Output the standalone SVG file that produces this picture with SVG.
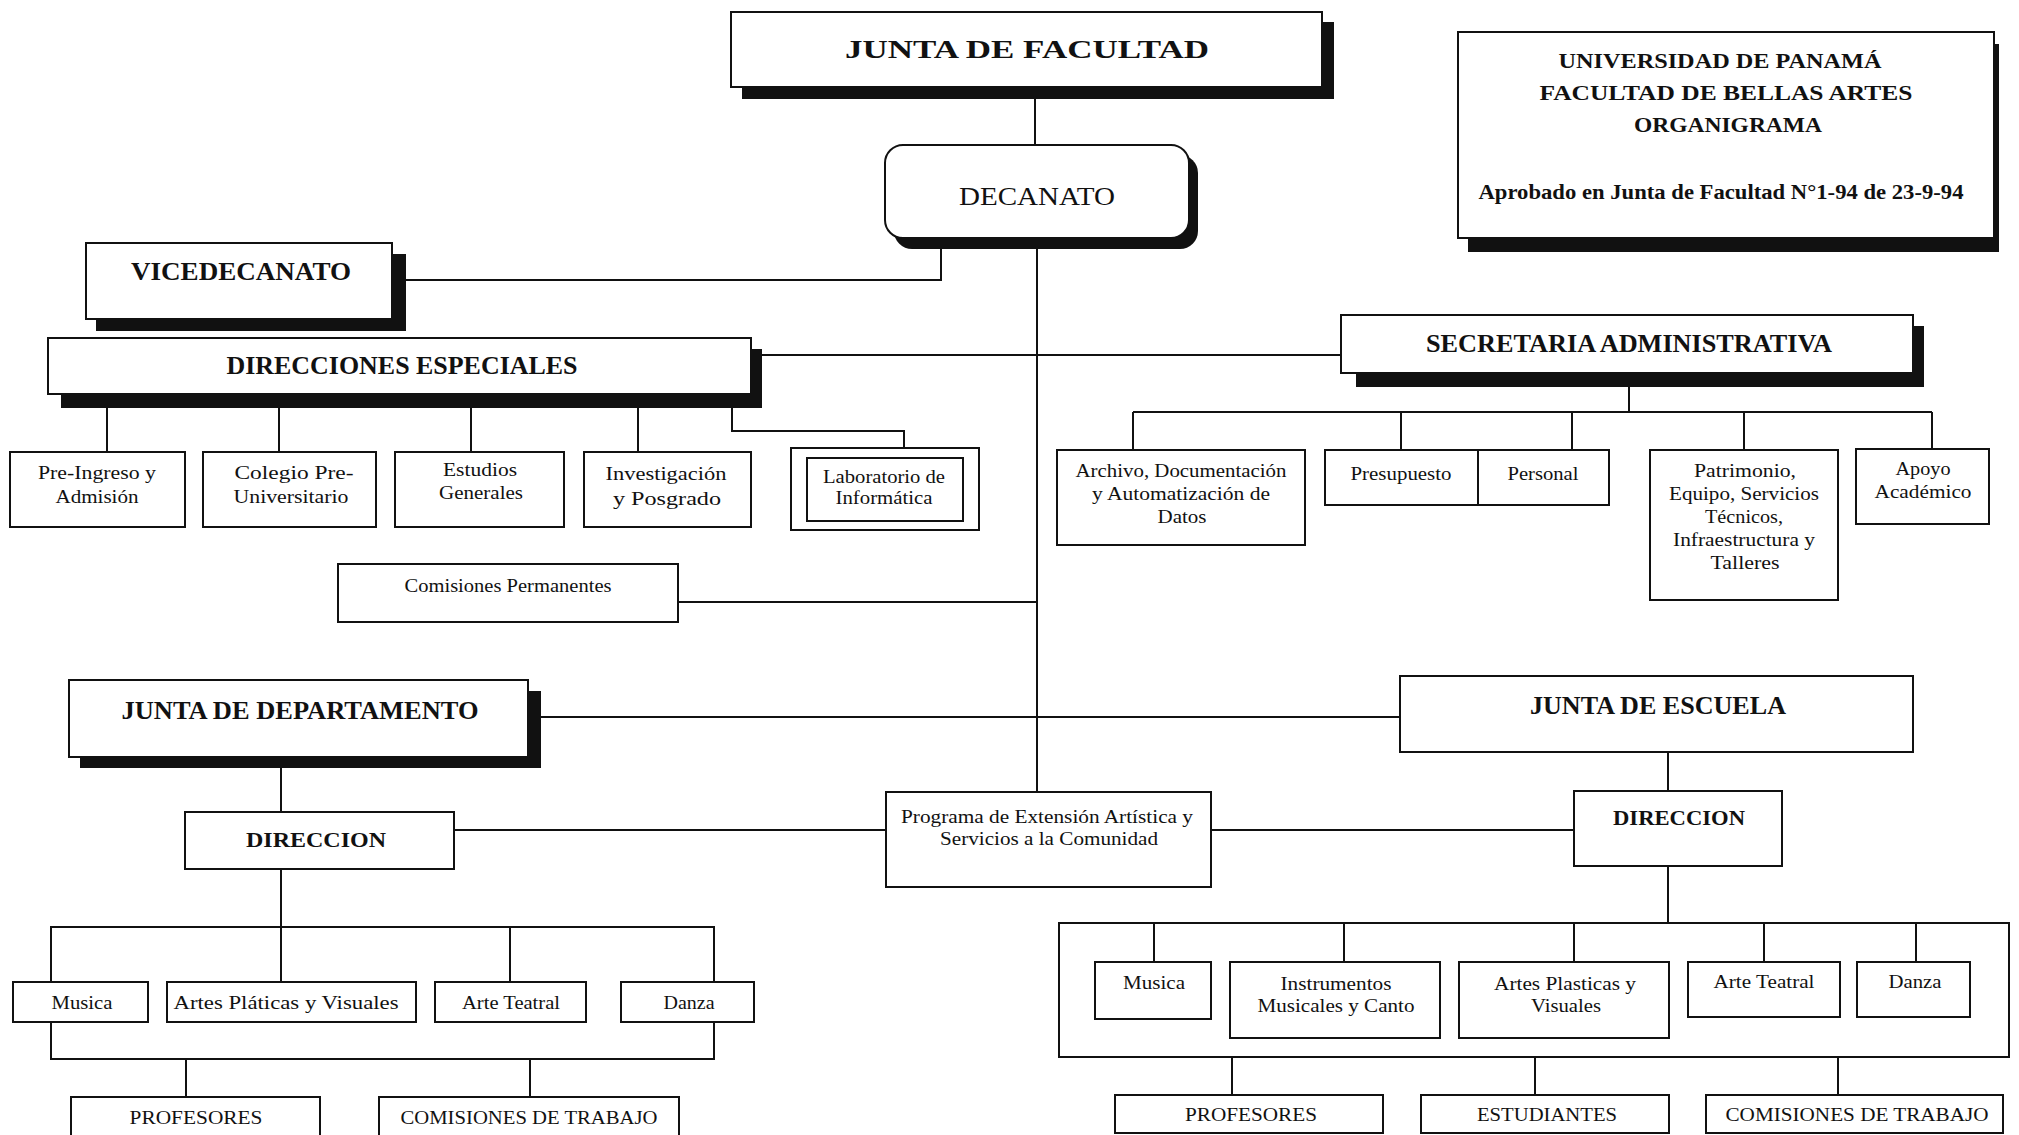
<svg xmlns="http://www.w3.org/2000/svg" width="2019" height="1135" viewBox="0 0 2019 1135">
<style>
.bx{fill:#fff;stroke:#111;stroke-width:2}
.sh{fill:#111}
.ln{stroke:#111;stroke-width:2;fill:none}
text{font-family:"Liberation Serif","Times New Roman",serif;fill:#111;text-anchor:middle}
.hd{font-weight:bold;font-size:25px}
.t{font-size:18px}
.tb{font-weight:bold;font-size:22px}
</style>
<rect width="2019" height="1135" fill="#fff"/>
<g id="connectors">
<path class="ln" d="M1035 99V145"/>
<path class="ln" d="M941 249V280H406"/>
<path class="ln" d="M1037 249V792"/>
<path class="ln" d="M762 355H1341"/>
<path class="ln" d="M107 408V452M279 408V452M471 408V452M638 408V452M732 408V431H904V448"/>
<path class="ln" d="M1629 387V412M1133 412H1932M1133 412V450M1401 412V450M1572 412V450M1744 412V450M1932 412V449"/>
<path class="ln" d="M678 602H1037"/>
<path class="ln" d="M541 717H1400"/>
<path class="ln" d="M281 768V812"/>
<path class="ln" d="M454 830H886M1211 830H1574"/>
<path class="ln" d="M1668 752V791M1668 866V923"/>
<rect class="ln" x="1059" y="923" width="950" height="134"/>
<path class="ln" d="M1154 923V962M1344 923V962M1574 923V962M1764 923V962M1916 923V962"/>
<path class="ln" d="M1232 1057V1095M1535 1057V1095M1838 1057V1095"/>
<path class="ln" d="M281 869V982"/>
<rect class="ln" x="51" y="927" width="663" height="132"/>
<path class="ln" d="M510 927V982M186 1059V1097M530 1059V1097"/>
</g>
<g id="junta-facultad">
<rect class="sh" x="742" y="22" width="592" height="77"/>
<rect class="bx" x="731" y="12" width="591" height="75"/>
<text class="hd" x="1027" y="58" font-size="29" textLength="364" lengthAdjust="spacingAndGlyphs">JUNTA DE FACULTAD</text>
</g>
<g id="titulo">
<rect class="sh" x="1468" y="44" width="531" height="208"/>
<rect class="bx" x="1458" y="32" width="536" height="206"/>
<text class="tb" x="1720" y="68" font-size="24" textLength="323" lengthAdjust="spacingAndGlyphs">UNIVERSIDAD DE PANAMÁ</text>
<text class="tb" x="1726" y="100" font-size="24" textLength="373" lengthAdjust="spacingAndGlyphs">FACULTAD DE BELLAS ARTES</text>
<text class="tb" x="1728" y="132" font-size="24" textLength="188" lengthAdjust="spacingAndGlyphs">ORGANIGRAMA</text>
<text class="tb" x="1721" y="199" font-size="20" textLength="485" lengthAdjust="spacingAndGlyphs">Aprobado en Junta de Facultad N°1-94 de 23-9-94</text>
</g>
<g id="decanato">
<rect class="sh" x="894" y="155" width="304" height="94" rx="18"/>
<rect class="bx" x="885" y="145" width="304" height="93" rx="18"/>
<text x="1037" y="205" font-size="25" textLength="156" lengthAdjust="spacingAndGlyphs">DECANATO</text>
</g>
<g id="vicedecanato">
<rect class="sh" x="96" y="254" width="310" height="77"/>
<rect class="bx" x="86" y="243" width="306" height="76"/>
<text class="hd" x="241" y="280" textLength="220" lengthAdjust="spacingAndGlyphs">VICEDECANATO</text>
</g>
<g id="direcciones-especiales">
<rect class="sh" x="61" y="349" width="701" height="59"/>
<rect class="bx" x="48" y="338" width="703" height="56"/>
<text class="hd" x="402" y="374" textLength="351" lengthAdjust="spacingAndGlyphs">DIRECCIONES ESPECIALES</text>
</g>
<g id="pre-ingreso">
<rect class="bx" x="10" y="452" width="175" height="75"/>
<text class="t" x="97" y="479" textLength="118" lengthAdjust="spacingAndGlyphs">Pre-Ingreso y</text>
<text class="t" x="97" y="503" textLength="83" lengthAdjust="spacingAndGlyphs">Admisión</text>
</g>
<g id="colegio">
<rect class="bx" x="203" y="452" width="173" height="75"/>
<text class="t" x="294" y="479" textLength="119" lengthAdjust="spacingAndGlyphs">Colegio Pre-</text>
<text class="t" x="291" y="503" textLength="115" lengthAdjust="spacingAndGlyphs">Universitario</text>
</g>
<g id="estudios">
<rect class="bx" x="395" y="452" width="169" height="75"/>
<text class="t" x="480" y="476" textLength="74" lengthAdjust="spacingAndGlyphs">Estudios</text>
<text class="t" x="481" y="499" textLength="84" lengthAdjust="spacingAndGlyphs">Generales</text>
</g>
<g id="investigacion">
<rect class="bx" x="584" y="452" width="167" height="75"/>
<text class="t" x="666" y="480" font-size="20" textLength="121" lengthAdjust="spacingAndGlyphs">Investigación</text>
<text class="t" x="667" y="505" font-size="20" textLength="108" lengthAdjust="spacingAndGlyphs">y Posgrado</text>
</g>
<g id="laboratorio">
<rect class="bx" x="791" y="448" width="188" height="82"/>
<rect class="bx" x="807" y="458" width="156" height="63"/>
<text class="t" x="884" y="483" font-size="16" textLength="122" lengthAdjust="spacingAndGlyphs">Laboratorio de</text>
<text class="t" x="884" y="504" font-size="16" textLength="97" lengthAdjust="spacingAndGlyphs">Informática</text>
</g>
<g id="secretaria">
<rect class="sh" x="1356" y="326" width="568" height="61"/>
<rect class="bx" x="1341" y="315" width="572" height="58"/>
<text class="hd" x="1629" y="352" textLength="406" lengthAdjust="spacingAndGlyphs">SECRETARIA ADMINISTRATIVA</text>
</g>
<g id="archivo">
<rect class="bx" x="1057" y="450" width="248" height="95"/>
<text class="t" x="1181" y="477" textLength="211" lengthAdjust="spacingAndGlyphs">Archivo, Documentación</text>
<text class="t" x="1181" y="500" textLength="178" lengthAdjust="spacingAndGlyphs">y Automatización de</text>
<text class="t" x="1182" y="523" textLength="49" lengthAdjust="spacingAndGlyphs">Datos</text>
</g>
<g id="presupuesto">
<rect class="bx" x="1325" y="450" width="153" height="55"/>
<text class="t" x="1401" y="480" textLength="101" lengthAdjust="spacingAndGlyphs">Presupuesto</text>
</g>
<g id="personal">
<rect class="bx" x="1478" y="450" width="131" height="55"/>
<text class="t" x="1543" y="480" textLength="71" lengthAdjust="spacingAndGlyphs">Personal</text>
</g>
<g id="patrimonio">
<rect class="bx" x="1650" y="450" width="188" height="150"/>
<text class="t" x="1745" y="477" textLength="102" lengthAdjust="spacingAndGlyphs">Patrimonio,</text>
<text class="t" x="1744" y="500" textLength="150" lengthAdjust="spacingAndGlyphs">Equipo, Servicios</text>
<text class="t" x="1744" y="523" textLength="78" lengthAdjust="spacingAndGlyphs">Técnicos,</text>
<text class="t" x="1744" y="546" textLength="142" lengthAdjust="spacingAndGlyphs">Infraestructura y</text>
<text class="t" x="1745" y="569" textLength="69" lengthAdjust="spacingAndGlyphs">Talleres</text>
</g>
<g id="apoyo">
<rect class="bx" x="1856" y="449" width="133" height="75"/>
<text class="t" x="1923" y="475" textLength="55" lengthAdjust="spacingAndGlyphs">Apoyo</text>
<text class="t" x="1923" y="498" textLength="97" lengthAdjust="spacingAndGlyphs">Académico</text>
</g>
<g id="comisiones-permanentes">
<rect class="bx" x="338" y="564" width="340" height="58"/>
<text class="t" x="508" y="592" textLength="207" lengthAdjust="spacingAndGlyphs">Comisiones Permanentes</text>
</g>
<g id="junta-departamento">
<rect class="sh" x="80" y="691" width="461" height="77"/>
<rect class="bx" x="69" y="680" width="459" height="77"/>
<text class="hd" x="300" y="719" textLength="357" lengthAdjust="spacingAndGlyphs">JUNTA DE DEPARTAMENTO</text>
</g>
<g id="junta-escuela">
<rect class="bx" x="1400" y="676" width="513" height="76"/>
<text class="hd" x="1658" y="714" textLength="256" lengthAdjust="spacingAndGlyphs">JUNTA DE ESCUELA</text>
</g>
<g id="direccion-dep">
<rect class="bx" x="185" y="812" width="269" height="57"/>
<text class="tb" x="316" y="847" textLength="140" lengthAdjust="spacingAndGlyphs">DIRECCION</text>
</g>
<g id="programa">
<rect class="bx" x="886" y="792" width="325" height="95"/>
<text class="t" x="1047" y="823" textLength="292" lengthAdjust="spacingAndGlyphs">Programa de Extensión Artística y</text>
<text class="t" x="1049" y="845" textLength="218" lengthAdjust="spacingAndGlyphs">Servicios a la Comunidad</text>
</g>
<g id="direccion-esc">
<rect class="bx" x="1574" y="791" width="208" height="75"/>
<text class="tb" x="1679" y="825" textLength="132" lengthAdjust="spacingAndGlyphs">DIRECCION</text>
</g>
<g id="esc-musica">
<rect class="bx" x="1095" y="962" width="116" height="57"/>
<text class="t" x="1154" y="989" textLength="62" lengthAdjust="spacingAndGlyphs">Musica</text>
</g>
<g id="esc-instrumentos">
<rect class="bx" x="1230" y="962" width="210" height="76"/>
<text class="t" x="1336" y="990" textLength="111" lengthAdjust="spacingAndGlyphs">Instrumentos</text>
<text class="t" x="1336" y="1012" textLength="157" lengthAdjust="spacingAndGlyphs">Musicales y Canto</text>
</g>
<g id="esc-artes">
<rect class="bx" x="1459" y="962" width="210" height="76"/>
<text class="t" x="1565" y="990" textLength="142" lengthAdjust="spacingAndGlyphs">Artes Plasticas y</text>
<text class="t" x="1566" y="1012" textLength="70" lengthAdjust="spacingAndGlyphs">Visuales</text>
</g>
<g id="esc-teatral">
<rect class="bx" x="1688" y="962" width="152" height="55"/>
<text class="t" x="1764" y="988" textLength="101" lengthAdjust="spacingAndGlyphs">Arte Teatral</text>
</g>
<g id="esc-danza">
<rect class="bx" x="1857" y="962" width="113" height="55"/>
<text class="t" x="1915" y="988" textLength="53" lengthAdjust="spacingAndGlyphs">Danza</text>
</g>
<g id="esc-profesores">
<rect class="bx" x="1115" y="1095" width="268" height="38"/>
<text class="t" x="1251" y="1121" textLength="132" lengthAdjust="spacingAndGlyphs">PROFESORES</text>
</g>
<g id="esc-estudiantes">
<rect class="bx" x="1421" y="1095" width="248" height="38"/>
<text class="t" x="1547" y="1121" textLength="140" lengthAdjust="spacingAndGlyphs">ESTUDIANTES</text>
</g>
<g id="esc-comisiones">
<rect class="bx" x="1706" y="1095" width="297" height="38"/>
<text class="t" x="1857" y="1121" textLength="263" lengthAdjust="spacingAndGlyphs">COMISIONES DE TRABAJO</text>
</g>
<g id="dep-musica">
<rect class="bx" x="13" y="982" width="135" height="40"/>
<text class="t" x="82" y="1009" textLength="61" lengthAdjust="spacingAndGlyphs">Musica</text>
</g>
<g id="dep-artes">
<rect class="bx" x="167" y="982" width="249" height="40"/>
<text class="t" x="286" y="1009" textLength="225" lengthAdjust="spacingAndGlyphs">Artes Pláticas y Visuales</text>
</g>
<g id="dep-teatral">
<rect class="bx" x="435" y="982" width="151" height="40"/>
<text class="t" x="511" y="1009" textLength="98" lengthAdjust="spacingAndGlyphs">Arte Teatral</text>
</g>
<g id="dep-danza">
<rect class="bx" x="621" y="982" width="133" height="40"/>
<text class="t" x="689" y="1009" textLength="51" lengthAdjust="spacingAndGlyphs">Danza</text>
</g>
<g id="dep-profesores">
<rect class="bx" x="71" y="1097" width="249" height="40"/>
<text class="t" x="196" y="1124" textLength="133" lengthAdjust="spacingAndGlyphs">PROFESORES</text>
</g>
<g id="dep-comisiones">
<rect class="bx" x="379" y="1097" width="300" height="40"/>
<text class="t" x="529" y="1124" textLength="257" lengthAdjust="spacingAndGlyphs">COMISIONES DE TRABAJO</text>
</g>
</svg>
